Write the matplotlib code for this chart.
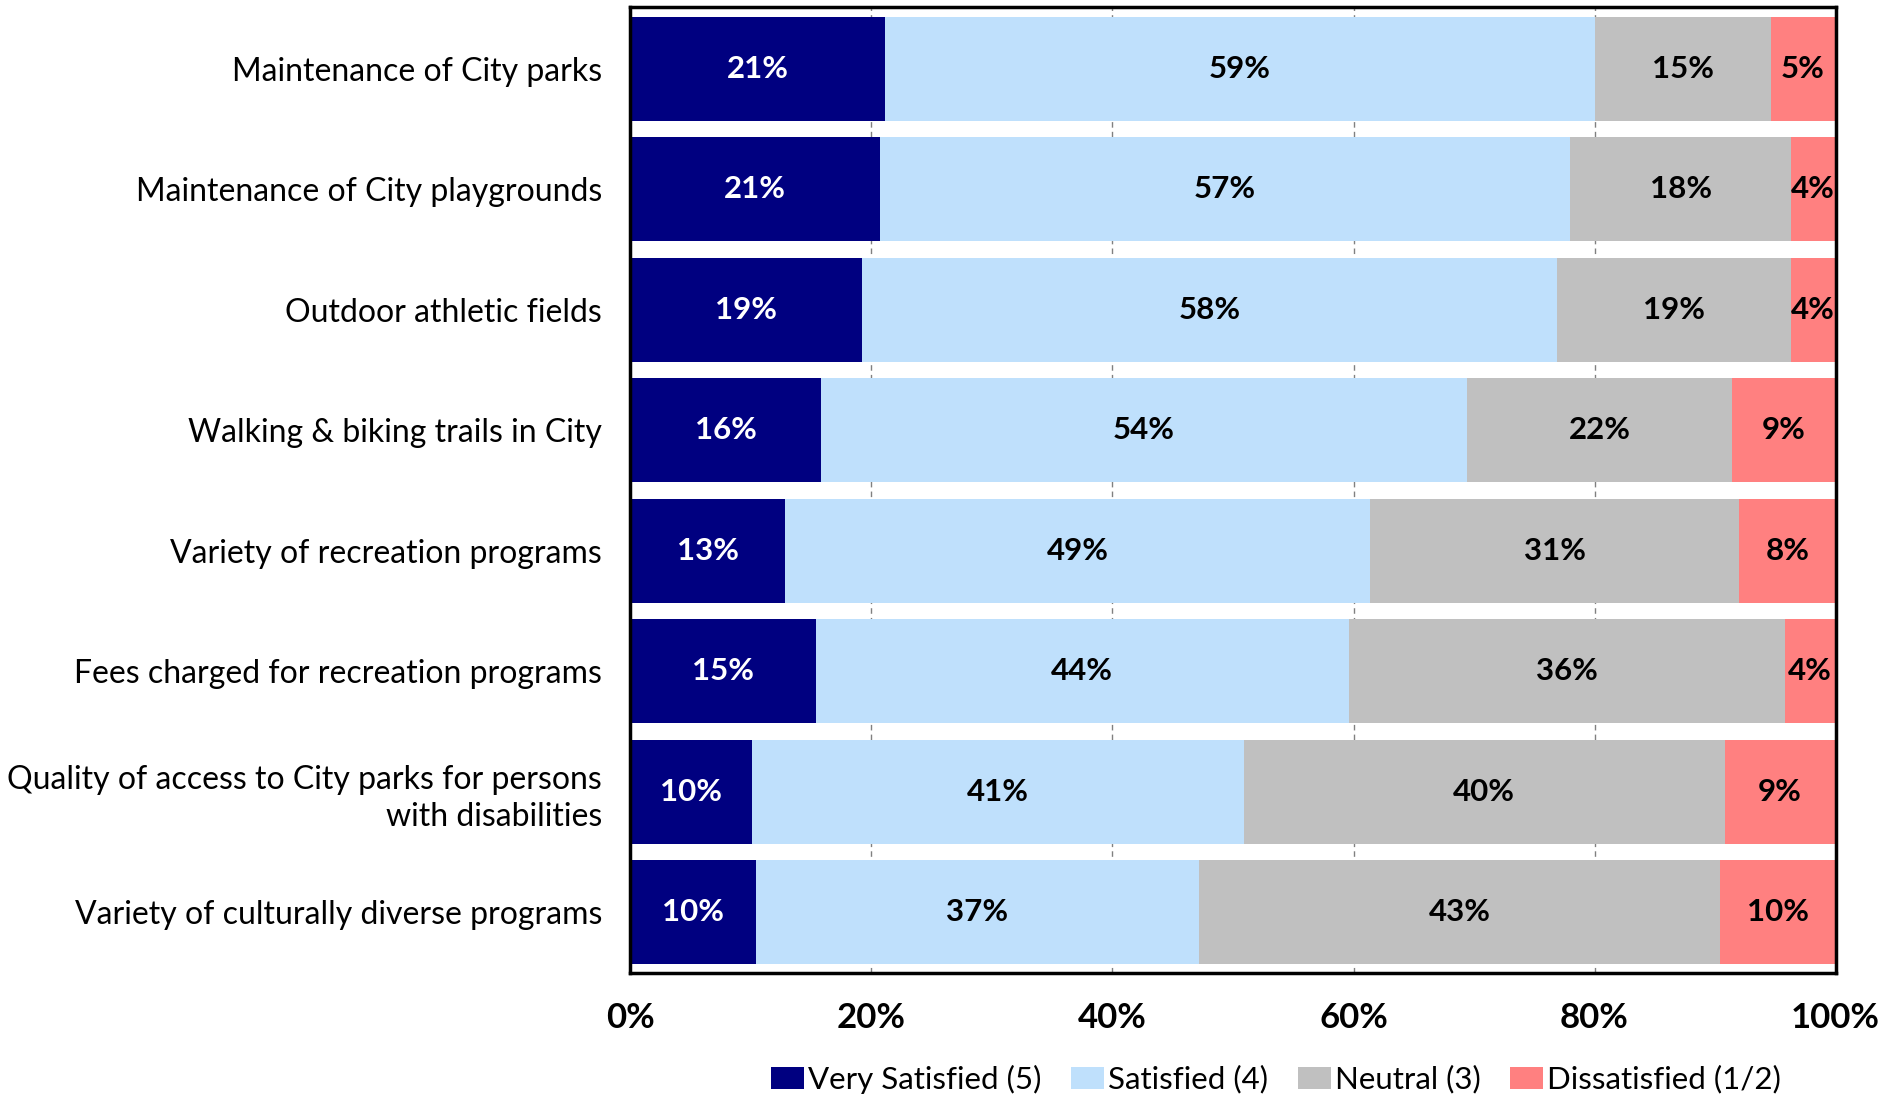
import matplotlib
matplotlib.use("Agg")
import matplotlib.pyplot as plt
import numpy as np

plt.rcParams['font.family'] = ['Lato', 'DejaVu Sans']

categories = [
    "Maintenance of City parks",
    "Maintenance of City playgrounds",
    "Outdoor athletic fields",
    "Walking & biking trails in City",
    "Variety of recreation programs",
    "Fees charged for recreation programs",
    "Quality of access to City parks for persons\nwith disabilities",
    "Variety of culturally diverse programs",
]
series_names = ["Very Satisfied (5)", "Satisfied (4)", "Neutral (3)", "Dissatisfied (1/2)"]
very_satisfied = [21.1, 20.7, 19.2, 15.8, 12.8, 15.4, 10.1, 10.4]
satisfied      = [58.9, 57.3, 57.7, 53.6, 48.6, 44.2, 40.8, 36.8]
neutral        = [14.6, 18.3, 19.4, 22.0, 30.6, 36.2, 39.9, 43.2]
dissatisfied   = [5.4, 3.7, 3.7, 8.6, 8.0, 4.2, 9.2, 9.6]
xticks = [0, 20, 40, 60, 80, 100]
xtick_labels = ["0%", "20%", "40%", "60%", "80%", "100%"]

colors = ["#000080", "#BFE0FC", "#C0C0C0", "#FF8080"]
text_colors = ["white", "black", "black", "black"]

fig = plt.figure(figsize=(19, 10.98), dpi=100)
ax = fig.add_axes([0.3318, 0.1138, 0.9661 - 0.3318, 0.9932 - 0.1138])

y = np.arange(len(categories))
left = np.zeros(len(categories))
for vals, name, col, tcol in zip([very_satisfied, satisfied, neutral, dissatisfied],
                                 series_names, colors, text_colors):
    vals = np.array(vals)
    ax.barh(y, vals, left=left, height=0.86, color=col, label=name, zorder=2)
    for yi, l, v in zip(y, left, vals):
        ax.text(l + v / 2, yi, f"{v:.0f}%", ha='center', va='center', color=tcol,
                fontsize=22.5, fontweight='bold', zorder=3)
    left += vals

ax.set_xlim(0, 100)
ax.set_ylim(7.505, -0.509)
ax.set_yticks(y)
ax.set_yticklabels(categories, fontsize=23, linespacing=1.3)
ax.set_xticks(xticks)
ax.set_xticklabels(xtick_labels, fontsize=25, fontweight='bold')
ax.tick_params(axis='y', length=0, pad=20.5)
ax.tick_params(axis='x', length=0, pad=21)
ax.xaxis.grid(True, color='#808080', linestyle=(0, (4, 3)), linewidth=1, zorder=0)
ax.set_axisbelow(True)
for s in ax.spines.values():
    s.set_linewidth(2.5)
    s.set_color('black')

leg = fig.legend(loc='center', bbox_to_anchor=(0.6716, 0.0173), ncol=4, frameon=False,
                 fontsize=22.5, handlelength=1.05, handleheight=0.7, handletextpad=0.13,
                 columnspacing=0.95)

fig.savefig("out.png", dpi=100)
